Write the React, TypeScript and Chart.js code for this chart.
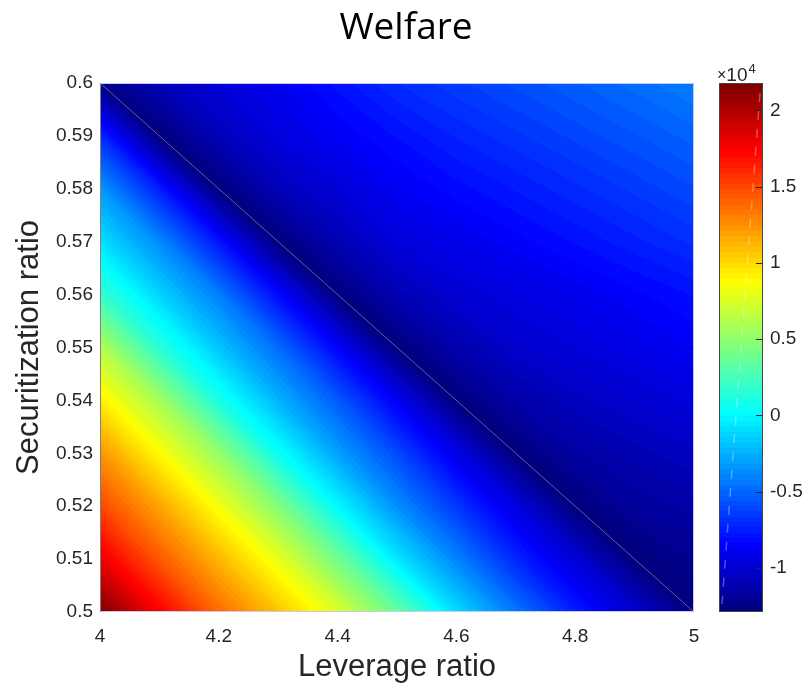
import React, { useEffect, useRef } from "react";
import { Chart, registerables } from "chart.js";

Chart.register(...registerables);

// ---------------- data ----------------
const leverage = [4.0, 4.1, 4.2, 4.3, 4.4, 4.5, 4.6, 4.7, 4.8, 4.9, 5.0];
const securitization = [0.5, 0.51, 0.52, 0.53, 0.54, 0.55, 0.56, 0.57, 0.58, 0.59, 0.6];

// welfare values, one row per securitization ratio, columns follow `leverage`
const welfare_s050 = [21800, 17500, 13800, 10800, 7600, 3600, -1000, -4400, -7500, -10000, -12900];
const welfare_s051 = [18000, 14400, 11200, 8000, 4000, -600, -4000, -7200, -9800, -12900, -12200];
const welfare_s052 = [15000, 11800, 8400, 4600, 0, -3600, -6600, -9500, -12900, -11800, -11400];
const welfare_s053 = [12400, 8800, 5200, 500, -3000, -6000, -9200, -12900, -11600, -11000, -10500];
const welfare_s054 = [9300, 5700, 1000, -2400, -5400, -8800, -12900, -11400, -10600, -10100, -9600];
const welfare_s055 = [6200, 1500, -1800, -4800, -8500, -12900, -11200, -10200, -9700, -9200, -8700];
const welfare_s056 = [2000, -1300, -4200, -8200, -12900, -11000, -10000, -9500, -9000, -8500, -8000];
const welfare_s057 = [-800, -3800, -7800, -12900, -11000, -9700, -9100, -8550, -8000, -7450, -6900];
const welfare_s058 = [-3300, -7500, -12900, -10800, -9800, -8800, -8200, -7650, -7100, -6550, -6000];
const welfare_s059 = [-7000, -12900, -10800, -9600, -8700, -8000, -7300, -6750, -6200, -5650, -5100];
const welfare_s060 = [-12500, -10800, -9800, -8900, -7900, -7000, -6400, -5850, -5300, -4750, -4200];

const welfareRows = [
  welfare_s050, welfare_s051, welfare_s052, welfare_s053, welfare_s054, welfare_s055,
  welfare_s056, welfare_s057, welfare_s058, welfare_s059, welfare_s060,
];

// thin line drawn across the plot
const ridgeLeverage = [4.0, 5.0];
const ridgeSecuritization = [0.6, 0.5];

// ticks
const xTickValues = [4, 4.2, 4.4, 4.6, 4.8, 5];
const xTickLabels = ["4", "4.2", "4.4", "4.6", "4.8", "5"];
const yTickValues = [0.5, 0.51, 0.52, 0.53, 0.54, 0.55, 0.56, 0.57, 0.58, 0.59, 0.6];
const yTickLabels = ["0.5", "0.51", "0.52", "0.53", "0.54", "0.55", "0.56", "0.57", "0.58", "0.59", "0.6"];
const cbTickValues = [-10000, -5000, 0, 5000, 10000, 15000, 20000];
const cbTickLabels = ["-1", "-0.5", "0", "0.5", "1", "1.5", "2"];

// ---------------- helpers ----------------
const allValues = welfareRows.flat();
const V_MIN = Math.min(...allValues);
const V_MAX = Math.max(...allValues);
const LEVELS = 100;

const clamp01 = (v: number) => Math.max(0, Math.min(1, v));
function jet(t: number): [number, number, number] {
  const r = clamp01(1.5 - Math.abs(4 * t - 3));
  const g = clamp01(1.5 - Math.abs(4 * t - 2));
  const b = clamp01(1.5 - Math.abs(4 * t - 1));
  return [Math.round(r * 255), Math.round(g * 255), Math.round(b * 255)];
}
function levelColor(v: number): [number, number, number] {
  let k = Math.floor(((v - V_MIN) / (V_MAX - V_MIN)) * LEVELS);
  if (k < 0) k = 0;
  if (k > LEVELS - 1) k = LEVELS - 1;
  return jet(k / (LEVELS - 1));
}
function findCell(arr: number[], v: number): [number, number] {
  let i = 0;
  while (i < arr.length - 2 && v > arr[i + 1]) i++;
  const f = (v - arr[i]) / (arr[i + 1] - arr[i]);
  return [i, Math.max(0, Math.min(1, f))];
}
function sampleWelfare(xv: number, yv: number): number {
  const [i, u] = findCell(leverage, xv);
  const [j, w] = findCell(securitization, yv);
  const v00 = welfareRows[j][i];
  const v10 = welfareRows[j][i + 1];
  const v01 = welfareRows[j + 1][i];
  const v11 = welfareRows[j + 1][i + 1];
  if (u + w <= 1) return v00 + u * (v10 - v00) + w * (v01 - v00);
  return v11 + (1 - u) * (v01 - v11) + (1 - w) * (v10 - v11);
}

const TEXT = "#262626";
const SANS = '"Liberation Sans", Arial, sans-serif';

const heatmapPlugin = {
  id: "heatmap",
  beforeDatasetsDraw(chart: any) {
    const { ctx, chartArea, scales } = chart;
    const left = Math.round(chartArea.left);
    const top = Math.round(chartArea.top);
    const w = Math.round(chartArea.right) - left;
    const h = Math.round(chartArea.bottom) - top;
    const img = ctx.createImageData(w, h);
    const xs: number[] = [];
    for (let px = 0; px < w; px++) xs.push(scales.x.getValueForPixel(left + px + 0.5));
    for (let py = 0; py < h; py++) {
      const yv = scales.y.getValueForPixel(top + py + 0.5);
      for (let px = 0; px < w; px++) {
        const [r, g, b] = levelColor(sampleWelfare(xs[px], yv));
        const o = (py * w + px) * 4;
        img.data[o] = r;
        img.data[o + 1] = g;
        img.data[o + 2] = b;
        img.data[o + 3] = 255;
      }
    }
    ctx.putImageData(img, left, top);
  },
};

const framePlugin = {
  id: "frame",
  afterDatasetsDraw(chart: any) {
    const { ctx, chartArea } = chart;
    const l = Math.round(chartArea.left) + 0.5;
    const t = Math.round(chartArea.top) + 0.5;
    const r = Math.round(chartArea.right) - 0.5;
    const b = Math.round(chartArea.bottom) - 0.5;
    ctx.save();
    ctx.lineWidth = 1;
    ctx.strokeStyle = "rgba(200,200,240,1)";
    ctx.beginPath();
    ctx.moveTo(l, t);
    ctx.lineTo(r, t);
    ctx.lineTo(r, b);
    ctx.lineTo(l, b);
    ctx.stroke();
    ctx.strokeStyle = "#808080";
    ctx.beginPath();
    ctx.moveTo(l, t);
    ctx.lineTo(l, b);
    ctx.stroke();
    ctx.restore();
  },
  afterDraw(chart: any) {
    const { ctx } = chart;
    ctx.save();
    ctx.fillStyle = "#000";
    ctx.font = '37px "Open Sans", sans-serif';
    ctx.textAlign = "center";
    ctx.textBaseline = "alphabetic";
    ctx.fillText("Welfare", 406, 39);
    ctx.restore();
  },
};

const colorbarPlugin = {
  id: "colorbar",
  beforeDraw(chart: any) {
    const { ctx, chartArea, scales } = chart;
    const left = Math.round(chartArea.left);
    const right = Math.round(chartArea.right);
    const top = Math.round(chartArea.top);
    const bottom = Math.round(chartArea.bottom);
    ctx.save();
    for (let py = top; py < bottom; py++) {
      const v = scales.y.getValueForPixel(py + 0.5);
      const [r, g, b] = levelColor(v);
      ctx.fillStyle = `rgb(${r},${g},${b})`;
      ctx.fillRect(left, py, right - left, 1);
    }
    // faint dashed streak
    ctx.strokeStyle = "rgba(255,255,255,0.3)";
    ctx.lineWidth = 1.5;
    ctx.setLineDash([9, 9]);
    ctx.beginPath();
    ctx.moveTo(right - 3, top + 10);
    ctx.lineTo(left + 3, bottom - 8);
    ctx.stroke();
    ctx.setLineDash([]);
    // ticks
    ctx.strokeStyle = "#262626";
    ctx.lineWidth = 1;
    for (const v of cbTickValues) {
      const y = Math.round(scales.y.getPixelForValue(v)) + 0.5;
      ctx.beginPath();
      ctx.moveTo(right - 7, y);
      ctx.lineTo(right, y);
      ctx.stroke();
    }
    // border
    ctx.strokeStyle = "#444";
    ctx.strokeRect(left + 0.5, top + 0.5, right - left - 1, bottom - top - 1);
    // exponent label
    ctx.fillStyle = TEXT;
    ctx.textBaseline = "alphabetic";
    ctx.textAlign = "left";
    let x = left - 2;
    ctx.font = `16px ${SANS}`;
    ctx.fillText("\u00d7", x, top - 3);
    x += ctx.measureText("\u00d7").width;
    ctx.font = `19px ${SANS}`;
    ctx.fillText("10", x, top - 2);
    x += ctx.measureText("10").width;
    ctx.font = `13px ${SANS}`;
    ctx.fillText("4", x + 1, top - 10);
    ctx.restore();
  },
};

export default function App() {
  const mainRef = useRef<HTMLCanvasElement>(null);
  const cbRef = useRef<HTMLCanvasElement>(null);

  useEffect(() => {
    const tickFont = { family: SANS, size: 19 };
    const main = new Chart(mainRef.current!, {
      type: "scatter",
      data: {
        datasets: [
          {
            type: "line",
            data: ridgeLeverage.map((x, i) => ({ x, y: ridgeSecuritization[i] })),
            borderColor: "rgba(110,110,165,0.85)",
            borderWidth: 1,
            pointRadius: 0,
            fill: false,
          } as any,
        ],
      },
      options: {
        responsive: false,
        animation: false,
        layout: { padding: { left: 0, top: 83, right: 115, bottom: 0 } },
        plugins: { legend: { display: false }, tooltip: { enabled: false }, title: { display: false } },
        scales: {
          x: {
            type: "linear",
            min: 4,
            max: 5,
            afterBuildTicks: (s: any) => {
              s.ticks = xTickValues.map((v) => ({ value: v }));
            },
            afterFit: (s: any) => {
              s.height = 72;
            },
            grid: { display: false, drawTicks: false },
            border: { display: false },
            ticks: {
              padding: 13,
              color: TEXT,
              font: tickFont,
              maxRotation: 0,
              autoSkip: false,
              callback: (_v: any, i: number) => xTickLabels[i],
            },
            title: {
              display: true,
              text: "Leverage ratio",
              color: TEXT,
              font: { family: SANS, size: 31, lineHeight: 1 },
              padding: { top: 0, bottom: 1 },
            },
          },
          y: {
            type: "linear",
            min: 0.5,
            max: 0.6,
            afterBuildTicks: (s: any) => {
              s.ticks = yTickValues.map((v) => ({ value: v }));
            },
            afterFit: (s: any) => {
              s.width = 100;
            },
            grid: { display: false, drawTicks: false },
            border: { display: false },
            ticks: {
              padding: 7,
              color: TEXT,
              font: tickFont,
              autoSkip: false,
              callback: (_v: any, i: number) => yTickLabels[i],
            },
            title: {
              display: true,
              text: "Securitization ratio",
              color: TEXT,
              font: { family: SANS, size: 31, lineHeight: 1 },
              padding: { top: 14, bottom: 0 },
            },
          },
        },
      },
      plugins: [heatmapPlugin, framePlugin],
    });

    const cb = new Chart(cbRef.current!, {
      type: "scatter",
      data: { datasets: [] },
      options: {
        responsive: false,
        animation: false,
        layout: { padding: { left: 19, top: 83, right: 0, bottom: 72 } },
        plugins: { legend: { display: false }, tooltip: { enabled: false } },
        scales: {
          x: { display: false, min: 0, max: 1 },
          y: {
            position: "right",
            min: V_MIN,
            max: V_MAX,
            afterBuildTicks: (s: any) => {
              s.ticks = cbTickValues.map((v) => ({ value: v }));
            },
            afterFit: (s: any) => {
              s.width = 46;
            },
            grid: { display: false, drawTicks: false },
            border: { display: false },
            ticks: {
              padding: 7,
              color: TEXT,
              font: tickFont,
              autoSkip: false,
              callback: (_v: any, i: number) => cbTickLabels[i],
            },
          },
        },
      },
      plugins: [colorbarPlugin],
    });

    return () => {
      main.destroy();
      cb.destroy();
    };
  }, []);

  return (
    <div style={{ position: "absolute", left: 0, top: 0, width: 809, height: 684, background: "#fff" }}>
      <canvas
        ref={mainRef}
        width={809}
        height={684}
        style={{ position: "absolute", left: 0, top: 0, width: 809, height: 684 }}
      />
      <canvas
        ref={cbRef}
        width={109}
        height={684}
        style={{ position: "absolute", left: 700, top: 0, width: 109, height: 684 }}
      />
    </div>
  );
}
